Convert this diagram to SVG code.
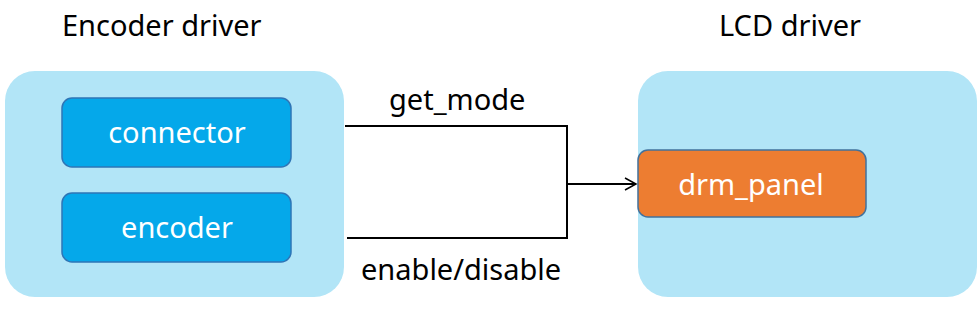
<svg xmlns="http://www.w3.org/2000/svg" width="980" height="311" viewBox="0 0 980 311">
<defs>
<marker id="arr" markerWidth="14" markerHeight="14" refX="12" refY="7" orient="auto" markerUnits="userSpaceOnUse">
<path d="M1,1 L12,7 L1,13" fill="none" stroke="#000" stroke-width="1.5"/>
</marker>
<style>
.cont{fill:#b2e5f7;}
.box{fill:#05a8ea;stroke:#2e75b6;stroke-width:1.5;}
.panel{fill:#ed7d31;stroke:#41719c;stroke-width:1.5;}
.t{font-family:"Noto Sans","Open Sans",sans-serif;font-size:29px;fill:#000;}
.w{font-family:"Noto Sans","Open Sans",sans-serif;font-size:29px;fill:#fff;text-anchor:middle;}
.ln{fill:none;stroke:#000;stroke-width:2;}
</style>
</defs>
<rect width="980" height="311" fill="#fff"/>
<g id="encoder-driver">
<rect class="cont" x="5" y="71" width="339" height="226" rx="30"/>
<text class="t" x="62" y="36">Encoder driver</text>
</g>
<g id="lcd-driver">
<rect class="cont" x="638" y="71" width="339" height="226" rx="30"/>
<text class="t" x="719" y="36">LCD driver</text>
</g>
<g id="connector">
<rect class="box" x="62" y="98" width="229" height="69" rx="10"/>
<text class="w" x="177" y="143">connector</text>
</g>
<g id="encoder">
<rect class="box" x="62" y="193" width="229" height="69" rx="10"/>
<text class="w" x="177" y="238">encoder</text>
</g>
<g id="drm_panel">
<rect class="panel" x="638" y="150" width="228" height="67" rx="10"/>
<text class="w" x="751" y="195">drm_panel</text>
</g>
<g id="connectors">
<path class="ln" d="M345,126 H567 V238 H347"/>
<path class="ln" d="M567,184 H636" marker-end="url(#arr)"/>
<text class="t" x="389" y="110">get_mode</text>
<text class="t" x="361" y="280">enable/disable</text>
</g>
</svg>
